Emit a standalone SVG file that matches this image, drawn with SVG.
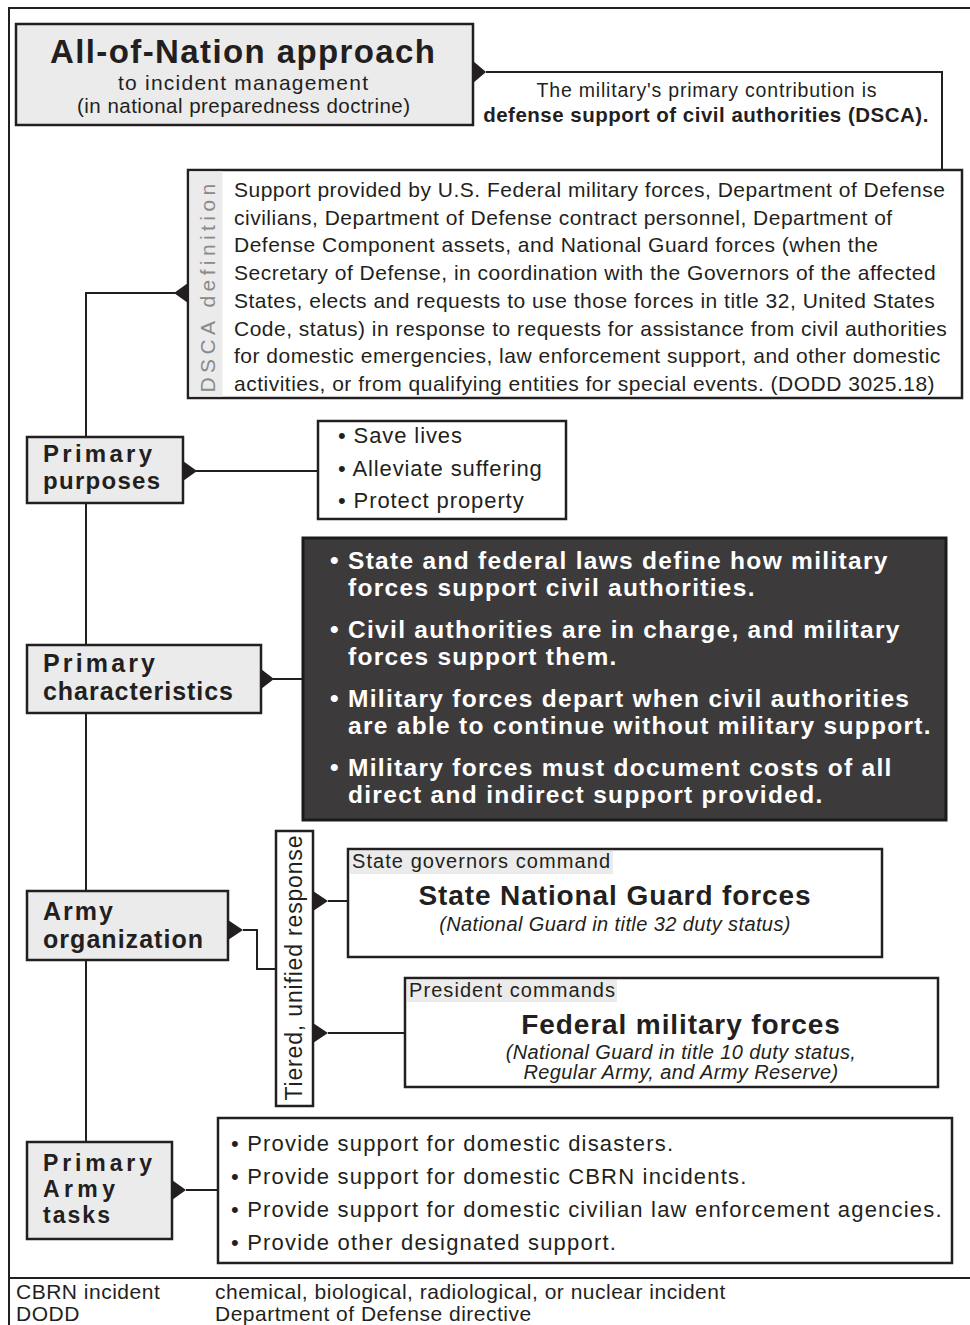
<svg xmlns="http://www.w3.org/2000/svg" width="970" height="1325" viewBox="0 0 970 1325">
<style>
.t{font-family:"Liberation Sans",Arial,sans-serif;fill:#231f20}
.b{font-weight:bold}
.i{font-style:italic}
.gbox{fill:#ebebeb;stroke:#231f20;stroke-width:2.5}
.wbox{fill:#fff;stroke:#231f20;stroke-width:2.5}
.ln{fill:none;stroke:#231f20;stroke-width:2}
.tri{fill:#231f20}
.lab{fill:#ebebeb;stroke:none}
.wt{font-family:"Liberation Sans",Arial,sans-serif;font-weight:bold;fill:#fff;font-size:24.5px;letter-spacing:1.3px}
</style>
<rect x="0" y="0" width="970" height="1325" fill="#fff"/>
<g id="frame">
<path class="ln" d="M9,1325 V8 H970" stroke-width="2.5"/>
<path class="ln" d="M9,1278 H970" stroke-width="1.8"/>
</g>
<g id="connectors">
<path class="ln" d="M486,72 H942 V170"/>
<path class="ln" d="M86,1142 V293 H175"/>
<path class="ln" d="M196,471 H318"/>
<path class="ln" d="M273,679 H302" stroke-width="3"/>
<path class="ln" d="M243,930 H257 V969 H276"/>
<path class="ln" d="M328,901 H348"/>
<path class="ln" d="M328,1033 H405"/>
<path class="ln" d="M186,1190 H218"/>
<polygon class="tri" points="473,61 486,72 473,83"/>
<polygon class="tri" points="188,283 174,293 188,303"/>
<polygon class="tri" points="183,461 197,471 183,481"/>
<polygon class="tri" points="261,669 274,679 261,689"/>
<polygon class="tri" points="228,920 243,930 228,940"/>
<polygon class="tri" points="313,891 328,901 313,911"/>
<polygon class="tri" points="313,1023 328,1033 313,1043"/>
<polygon class="tri" points="172,1180 186,1190 172,1200"/>
</g>
<g id="title">
<rect class="gbox" x="16" y="24" width="457" height="101"/>
<text class="t b" x="50" y="63" font-size="33" textLength="385" lengthAdjust="spacing">All-of-Nation approach</text>
<text class="t" x="118" y="90" font-size="21" textLength="250" lengthAdjust="spacing">to incident management</text>
<text class="t" x="77" y="113" font-size="20.5" textLength="333" lengthAdjust="spacing">(in national preparedness doctrine)</text>
</g>
<g id="contribution">
<text class="t" x="707" y="97" font-size="19.5" text-anchor="middle" letter-spacing="0.8">The military's primary contribution is</text>
<text class="t b" x="706" y="122" font-size="20.5" text-anchor="middle" letter-spacing="0.5">defense support of civil authorities (DSCA).</text>
</g>
<g id="dsca-definition">
<rect class="wbox" x="188" y="170" width="774" height="228"/>
<rect x="189.5" y="171.5" width="33" height="225" fill="#ebebeb"/>
<text class="t" transform="translate(215,286) rotate(-90)" x="0" y="0" font-size="21" text-anchor="middle" style="fill:#8a8a8a" letter-spacing="4.4">DSCA definition</text>
<g class="t" font-size="21" letter-spacing="0.5">
<text x="234" y="197">Support provided by U.S. Federal military forces, Department of Defense</text>
<text x="234" y="224.7">civilians, Department of Defense contract personnel, Department of</text>
<text x="234" y="252.4">Defense Component assets, and National Guard forces (when the</text>
<text x="234" y="280.1">Secretary of Defense, in coordination with the Governors of the affected</text>
<text x="234" y="307.8">States, elects and requests to use those forces in title 32, United States</text>
<text x="234" y="335.5">Code, status) in response to requests for assistance from civil authorities</text>
<text x="234" y="363.2">for domestic emergencies, law enforcement support, and other domestic</text>
<text x="234" y="391">activities, or from qualifying entities for special events. (DODD 3025.18)</text>
</g>
</g>
<g id="primary-purposes">
<rect class="gbox" x="27" y="437" width="156" height="66"/>
<text class="t b" x="43" y="462" font-size="24" textLength="109" lengthAdjust="spacing">Primary</text>
<text class="t b" x="43" y="489" font-size="24" textLength="117" lengthAdjust="spacing">purposes</text>
</g>
<g id="purposes-list">
<rect class="wbox" x="318" y="421" width="248" height="98"/>
<g class="t" font-size="22" letter-spacing="0.9">
<text x="338" y="443">• Save lives</text>
<text x="338" y="476">• Alleviate suffering</text>
<text x="338" y="508">• Protect property</text>
</g>
</g>
<g id="primary-characteristics">
<rect class="gbox" x="27" y="645" width="234" height="68"/>
<text class="t b" x="43" y="672" font-size="25" textLength="112" lengthAdjust="spacing">Primary</text>
<text class="t b" x="43" y="700" font-size="25" textLength="190" lengthAdjust="spacing">characteristics</text>
</g>
<g id="characteristics-list">
<rect x="303" y="538" width="643" height="282" fill="#3d3a3b" stroke="#1c1a1b" stroke-width="3"/>
<text class="wt" x="330" y="569">•</text><text class="wt" x="348" y="569">State and federal laws define how military</text>
<text class="wt" x="348" y="596">forces support civil authorities.</text>
<text class="wt" x="330" y="638">•</text><text class="wt" x="348" y="638">Civil authorities are in charge, and military</text>
<text class="wt" x="348" y="665">forces support them.</text>
<text class="wt" x="330" y="707">•</text><text class="wt" x="348" y="707">Military forces depart when civil authorities</text>
<text class="wt" x="348" y="734">are able to continue without military support.</text>
<text class="wt" x="330" y="776">•</text><text class="wt" x="348" y="776">Military forces must document costs of all</text>
<text class="wt" x="348" y="803">direct and indirect support provided.</text>
</g>
<g id="army-organization">
<rect class="gbox" x="27" y="891" width="201" height="69"/>
<text class="t b" x="43" y="920" font-size="25" textLength="70" lengthAdjust="spacing">Army</text>
<text class="t b" x="43" y="948" font-size="25" textLength="160" lengthAdjust="spacing">organization</text>
</g>
<g id="tiered-response">
<rect class="wbox" x="276" y="831" width="37" height="275"/>
<text class="t" transform="translate(302,968) rotate(-90)" x="0" y="0" font-size="23" text-anchor="middle" textLength="265" lengthAdjust="spacing">Tiered, unified response</text>
</g>
<g id="state-ng">
<rect class="wbox" x="348" y="849" width="534" height="108"/>
<rect class="lab" x="350" y="851" width="263" height="23"/>
<text class="t" x="352" y="868" font-size="20" textLength="258" lengthAdjust="spacing">State governors command</text>
<text class="t b" x="615" y="905" font-size="28" text-anchor="middle" letter-spacing="0.9">State National Guard forces</text>
<text class="t i" x="615" y="931" font-size="20" text-anchor="middle" letter-spacing="0.4">(National Guard in title 32 duty status)</text>
</g>
<g id="federal">
<rect class="wbox" x="405" y="978" width="533" height="109"/>
<rect class="lab" x="407" y="980" width="210" height="22"/>
<text class="t" x="409" y="997" font-size="20" textLength="206" lengthAdjust="spacing">President commands</text>
<text class="t b" x="681" y="1034" font-size="28" text-anchor="middle" letter-spacing="0.9">Federal military forces</text>
<text class="t i" x="681" y="1059" font-size="20" text-anchor="middle" letter-spacing="0.4">(National Guard in title 10 duty status,</text>
<text class="t i" x="681" y="1079" font-size="20" text-anchor="middle" letter-spacing="0.4">Regular Army, and Army Reserve)</text>
</g>
<g id="primary-army-tasks">
<rect class="gbox" x="27" y="1142" width="145" height="97"/>
<text class="t b" x="43" y="1171" font-size="23" textLength="109" lengthAdjust="spacing">Primary</text>
<text class="t b" x="43" y="1197" font-size="23" textLength="72" lengthAdjust="spacing">Army</text>
<text class="t b" x="43" y="1223" font-size="23" textLength="67" lengthAdjust="spacing">tasks</text>
</g>
<g id="tasks-list">
<rect class="wbox" x="218" y="1118" width="734" height="145"/>
<g class="t" font-size="22" letter-spacing="1.2">
<text x="231" y="1151">• Provide support for domestic disasters.</text>
<text x="231" y="1184">• Provide support for domestic CBRN incidents.</text>
<text x="231" y="1217">• Provide support for domestic civilian law enforcement agencies.</text>
<text x="231" y="1250">• Provide other designated support.</text>
</g>
</g>
<g id="footer" class="t" font-size="21" letter-spacing="0.5">
<text x="16" y="1299">CBRN incident</text>
<text x="16" y="1321">DODD</text>
<text x="215" y="1299">chemical, biological, radiological, or nuclear incident</text>
<text x="215" y="1321">Department of Defense directive</text>
</g>
</svg>
